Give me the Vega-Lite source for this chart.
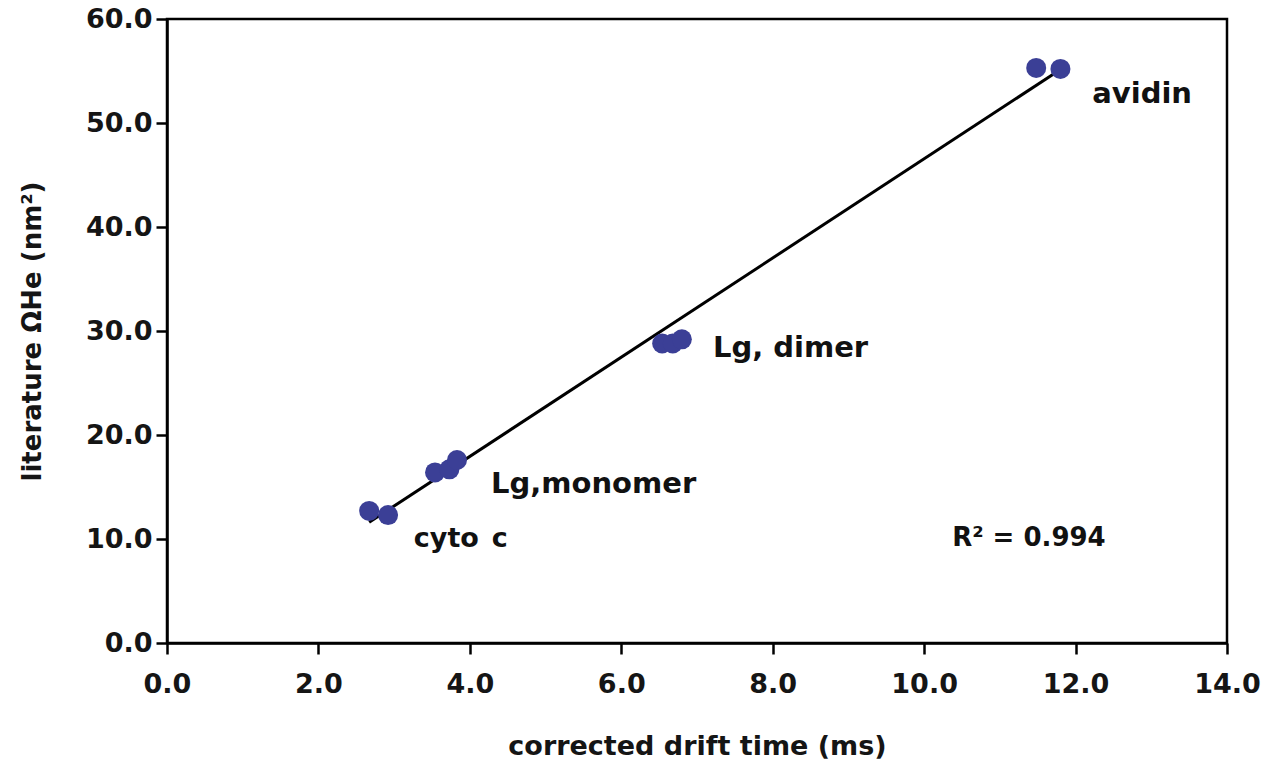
{
  "$schema": "https://vega.github.io/schema/vega-lite/v6.json",
  "width": 1060,
  "height": 624,
  "autosize": {"type": "none"},
  "padding": {"left": 167, "top": 19, "right": 39, "bottom": 120},
  "background": "white",
  "config": {
    "view": {"stroke": "black", "strokeWidth": 2.5},
    "font": "DejaVu Sans",
    "axis": {
      "domainColor": "black",
      "domainWidth": 2.5,
      "tickColor": "black",
      "tickWidth": 2.5,
      "tickSize": 11,
      "grid": false,
      "labelFlush": false,
      "labelFont": "DejaVu Sans",
      "labelFontWeight": "bold",
      "labelColor": "#151515",
      "titleFont": "DejaVu Sans",
      "titleFontWeight": "bold",
      "titleColor": "#151515"
    }
  },
  "datasets": {
    "calibrants": [
      {"drift_ms": 2.67, "omega_nm2": 12.7, "protein": "cyto c"},
      {"drift_ms": 2.92, "omega_nm2": 12.3, "protein": "cyto c"},
      {"drift_ms": 3.54, "omega_nm2": 16.4, "protein": "Lg,monomer"},
      {"drift_ms": 3.73, "omega_nm2": 16.7, "protein": "Lg,monomer"},
      {"drift_ms": 3.83, "omega_nm2": 17.6, "protein": "Lg,monomer"},
      {"drift_ms": 6.54, "omega_nm2": 28.8, "protein": "Lg, dimer"},
      {"drift_ms": 6.68, "omega_nm2": 28.8, "protein": "Lg, dimer"},
      {"drift_ms": 6.80, "omega_nm2": 29.2, "protein": "Lg, dimer"},
      {"drift_ms": 11.48, "omega_nm2": 55.3, "protein": "avidin"},
      {"drift_ms": 11.80, "omega_nm2": 55.2, "protein": "avidin"}
    ],
    "fit": [
      {"drift_ms": 2.67, "omega_nm2": 11.6},
      {"drift_ms": 11.77, "omega_nm2": 55.0}
    ],
    "labels": [
      {"drift_ms": 12.22, "omega_nm2": 51.9, "text": "avidin", "style": "normal", "size": 29},
      {"drift_ms": 7.21, "omega_nm2": 27.5, "text": "Lg, dimer", "style": "normal", "size": 29},
      {"drift_ms": 4.28, "omega_nm2": 14.4, "text": "Lg,monomer", "style": "normal", "size": 29},
      {"drift_ms": 3.26, "omega_nm2": 9.23, "text": "cyto", "style": "normal", "size": 27},
      {"drift_ms": 4.29, "omega_nm2": 9.23, "text": "c", "style": "italic", "size": 27},
      {"drift_ms": 10.37, "omega_nm2": 9.33, "text": "R² = 0.994", "style": "normal", "size": 26}
    ]
  },
  "layer": [
    {
      "data": {"name": "fit"},
      "mark": {"type": "line", "color": "black", "strokeWidth": 3},
      "encoding": {
        "x": {"field": "drift_ms", "type": "quantitative"},
        "y": {"field": "omega_nm2", "type": "quantitative"}
      }
    },
    {
      "data": {"name": "calibrants"},
      "mark": {"type": "point", "filled": true, "shape": "circle", "size": 400, "color": "#3b3f96", "opacity": 1},
      "encoding": {
        "x": {
          "field": "drift_ms",
          "type": "quantitative",
          "scale": {"domain": [0, 14], "nice": false, "zero": true},
          "axis": {
            "values": [0, 2, 4, 6, 8, 10, 12, 14],
            "format": ".1f",
            "labelFontSize": 27,
            "labelPadding": 17,
            "title": "corrected drift time (ms)",
            "titleFontSize": 27,
            "titlePadding": 36
          }
        },
        "y": {
          "field": "omega_nm2",
          "type": "quantitative",
          "scale": {"domain": [0, 60], "nice": false, "zero": true},
          "axis": {
            "values": [0, 10, 20, 30, 40, 50, 60],
            "format": ".1f",
            "labelFontSize": 27,
            "labelPadding": 4,
            "title": "literature ΩHe (nm²)",
            "titleFontSize": 26,
            "titlePadding": 40
          }
        }
      }
    },
    {
      "data": {"name": "labels"},
      "mark": {"type": "text", "align": "left", "baseline": "alphabetic", "fontWeight": "bold", "font": "DejaVu Sans", "color": "#111111"},
      "encoding": {
        "x": {"field": "drift_ms", "type": "quantitative"},
        "y": {"field": "omega_nm2", "type": "quantitative"},
        "text": {"field": "text"},
        "fontStyle": {"field": "style", "type": "nominal", "scale": null},
        "size": {"field": "size", "type": "quantitative", "scale": null}
      }
    }
  ]
}
